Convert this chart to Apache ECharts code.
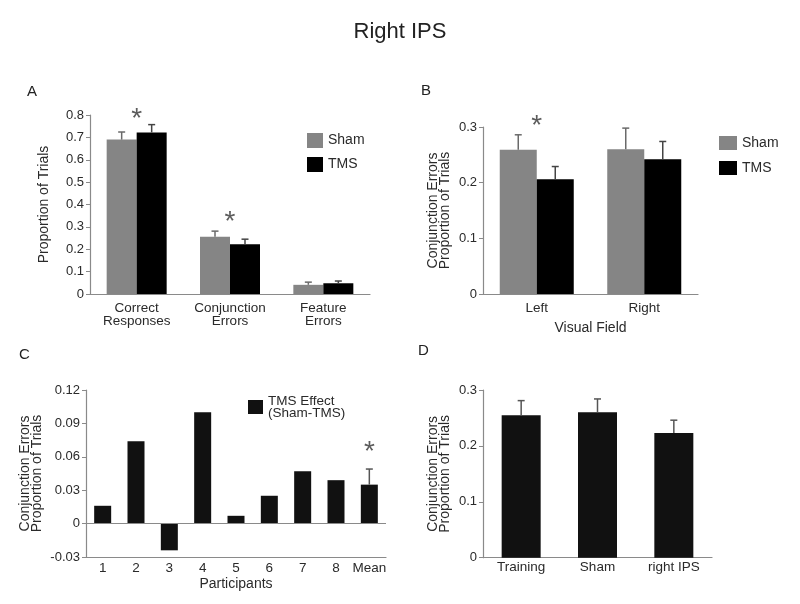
<!DOCTYPE html>
<html><head><meta charset="utf-8">
<script src="https://cdn.jsdelivr.net/npm/echarts@6/dist/echarts.min.js"></script>
<style>html,body{margin:0;padding:0;background:#fff}#c{width:800px;height:604px}</style>
</head><body><div id="c"></div>
<script>
// Panel A
var catsA = ['Correct\nResponses', 'Conjunction\nErrors', 'Feature\nErrors'];
var shamA = [0.690, 0.256, 0.041];
var shamAErr = [0.034, 0.025, 0.012];
var tmsA = [0.722, 0.222, 0.048];
var tmsAErr = [0.035, 0.023, 0.010];
var starA = [[0, 0.81], [1, 0.353]];
// Panel B
var catsB = ['Left', 'Right'];
var shamB = [0.259, 0.260];
var shamBErr = [0.027, 0.038];
var tmsB = [0.206, 0.242];
var tmsBErr = [0.023, 0.032];
var starB = [[0, 0.314]];
// Panel C
var catsC = ['1', '2', '3', '4', '5', '6', '7', '8', 'Mean'];
var effectC = [0.016, 0.074, -0.024, 0.100, 0.007, 0.025, 0.047, 0.039, 0.035];
var effectCErr = [[8, 0.035, 0.014]];
var starC = [[8, 0.0705]];
// Panel D
var catsD = ['Training', 'Sham', 'right IPS'];
var valsD = [0.255, 0.260, 0.223];
var errD = [0.026, 0.024, 0.023];

var FONT = 'Liberation Sans, Arial, Helvetica, sans-serif';
var TXT = '#2a2a2a';
var AX = '#8a8a8a';
var GRAY = '#858585';

function zipErr(vals, errs) { return vals.map(function (v, i) { return [i, v, errs[i]]; }); }

function errSeries(data, xi, yi, offset, color) {
  return {
    type: 'custom', xAxisIndex: xi, yAxisIndex: yi, z: 5, silent: true,
    data: data,
    renderItem: function (params, api) {
      var i = api.value(0), v = api.value(1), e = api.value(2);
      var p0 = api.coord([i, v]);
      var p1 = api.coord([i, v + e]);
      var x = p0[0] + offset;
      var st = { stroke: color, lineWidth: 1.5 };
      return { type: 'group', children: [
        { type: 'line', shape: { x1: x, y1: p0[1], x2: x, y2: p1[1] }, style: st },
        { type: 'line', shape: { x1: x - 3.5, y1: p1[1], x2: x + 3.5, y2: p1[1] }, style: st }
      ] };
    }
  };
}
function starSeries(data, xi, yi) {
  return {
    type: 'scatter', xAxisIndex: xi, yAxisIndex: yi, symbolSize: 0, silent: true, clip: false,
    data: data,
    label: { show: true, formatter: '*', position: 'inside', fontSize: 28, color: '#333', fontFamily: FONT, offset: [0, 7] }
  };
}
function catAxis(gi, cats, extra) {
  var a = {
    type: 'category', gridIndex: gi, data: cats,
    axisLine: { lineStyle: { color: AX, width: 1.2 } },
    axisTick: { show: false },
    axisLabel: { color: TXT, fontSize: 13.5, fontFamily: FONT, margin: 8, lineHeight: 13, interval: 0 }
  };
  for (var k in extra) a[k] = extra[k];
  return a;
}
function valAxis(gi, min, max, interval, name, gap, fmt) {
  return {
    type: 'value', gridIndex: gi, min: min, max: max, interval: interval,
    name: name, nameLocation: 'middle', nameGap: gap,
    nameTextStyle: { color: TXT, fontSize: 14, fontFamily: FONT, lineHeight: 12 },
    axisLine: { show: true, lineStyle: { color: AX, width: 1.2 } },
    axisTick: { show: true, length: 4, lineStyle: { color: AX } },
    splitLine: { show: false },
    axisLabel: { color: TXT, fontSize: 13, fontFamily: FONT, margin: 6, formatter: fmt }
  };
}
function fmt1(v) { return v === 0 ? '0' : v.toFixed(1); }
function fmt2(v) { return Math.abs(v) < 1e-9 ? '0' : v.toFixed(2); }

var legendText = { color: TXT, fontSize: 14, fontFamily: FONT };

var option = {
  animation: false,
  textStyle: { fontFamily: FONT },
  title: { text: 'Right IPS', left: 'center', top: 16, textStyle: { fontSize: 22, fontWeight: 'normal', color: '#222', fontFamily: FONT } },
  graphic: [
    { type: 'text', left: 27, top: 84, style: { text: 'A', fontSize: 15, fill: '#222', fontFamily: FONT } },
    { type: 'text', left: 421, top: 83, style: { text: 'B', fontSize: 15, fill: '#222', fontFamily: FONT } },
    { type: 'text', left: 19, top: 347, style: { text: 'C', fontSize: 15, fill: '#222', fontFamily: FONT } },
    { type: 'text', left: 418, top: 343, style: { text: 'D', fontSize: 15, fill: '#222', fontFamily: FONT } }
  ],
  legend: [
    { data: ['Sham', 'TMS'], icon: 'rect', padding: 0, left: 307, top: 133, orient: 'vertical', itemWidth: 16, itemHeight: 15, itemGap: 9, textStyle: legendText, selectedMode: false },
    { data: ['Sham ', 'TMS '], icon: 'rect', padding: 0, left: 719, top: 136, orient: 'vertical', itemWidth: 18, itemHeight: 14, itemGap: 11, textStyle: legendText, selectedMode: false },
    { data: ['TMS Effect\n(Sham-TMS)'], icon: 'rect', padding: 0, left: 248, top: 394, itemWidth: 15, itemHeight: 14, itemGap: 3, textStyle: { color: TXT, fontSize: 13.5, fontFamily: FONT, lineHeight: 12 }, selectedMode: false }
  ],
  grid: [
    { left: 90, top: 115, width: 280, height: 179 },
    { left: 483, top: 127, width: 215, height: 167 },
    { left: 86, top: 390, width: 300, height: 167 },
    { left: 483, top: 390, width: 229, height: 167.7 }
  ],
  xAxis: [
    catAxis(0, catsA, {}),
    catAxis(1, catsB, { name: 'Visual Field', nameLocation: 'middle', nameGap: 27, nameTextStyle: { color: TXT, fontSize: 14, fontFamily: FONT } }),
    catAxis(2, catsC, { axisLine: { onZero: false, lineStyle: { color: AX, width: 1.2 } }, axisLabel: { color: TXT, fontSize: 13.5, fontFamily: FONT, margin: 4, interval: 0 }, name: 'Participants', nameLocation: 'middle', nameGap: 20, nameTextStyle: { color: TXT, fontSize: 14, fontFamily: FONT } }),
    catAxis(3, catsD, { axisLabel: { color: TXT, fontSize: 13.5, fontFamily: FONT, margin: 3, interval: 0 } })
  ],
  yAxis: [
    valAxis(0, 0, 0.8, 0.1, 'Proportion of Trials', 40, fmt1),
    valAxis(1, 0, 0.3, 0.1, 'Conjunction Errors\nProportion of Trials', 32, fmt1),
    valAxis(2, -0.03, 0.12, 0.03, 'Conjunction Errors\nProportion of Trials', 43, fmt2),
    valAxis(3, 0, 0.3, 0.1, 'Conjunction Errors\nProportion of Trials', 32, fmt1)
  ],
  series: [
    { name: 'Sham', type: 'bar', xAxisIndex: 0, yAxisIndex: 0, data: shamA, barWidth: 30, barGap: '0%', itemStyle: { color: GRAY } },
    { name: 'TMS', type: 'bar', xAxisIndex: 0, yAxisIndex: 0, data: tmsA, barWidth: 30, barGap: '0%', itemStyle: { color: '#000' } },
    errSeries(zipErr(shamA, shamAErr), 0, 0, -15, '#6a6a6a'),
    errSeries(zipErr(tmsA, tmsAErr), 0, 0, 15, '#444'),
    starSeries(starA, 0, 0),

    { name: 'Sham ', type: 'bar', xAxisIndex: 1, yAxisIndex: 1, data: shamB, barWidth: 37, barGap: '0%', itemStyle: { color: GRAY } },
    { name: 'TMS ', type: 'bar', xAxisIndex: 1, yAxisIndex: 1, data: tmsB, barWidth: 37, barGap: '0%', itemStyle: { color: '#000' } },
    errSeries(zipErr(shamB, shamBErr), 1, 1, -18.5, '#6a6a6a'),
    errSeries(zipErr(tmsB, tmsBErr), 1, 1, 18.5, '#444'),
    starSeries(starB, 1, 1),

    { name: 'TMS Effect\n(Sham-TMS)', type: 'bar', xAxisIndex: 2, yAxisIndex: 2, data: effectC, barWidth: 17, itemStyle: { color: '#111' },
      markLine: { silent: true, symbol: 'none', label: { show: false }, lineStyle: { color: AX, type: 'solid', width: 1.2 }, data: [{ yAxis: 0 }] } },
    errSeries(effectCErr, 2, 2, 0, '#555'),
    starSeries(starC, 2, 2),

    { name: 'D', type: 'bar', xAxisIndex: 3, yAxisIndex: 3, data: valsD, barWidth: 39, itemStyle: { color: '#111' } },
    errSeries(zipErr(valsD, errD), 3, 3, 0, '#555')
  ]
};
var chart = echarts.init(document.getElementById('c'), null, { renderer: 'canvas' });
chart.setOption(option);
</script></body></html>
